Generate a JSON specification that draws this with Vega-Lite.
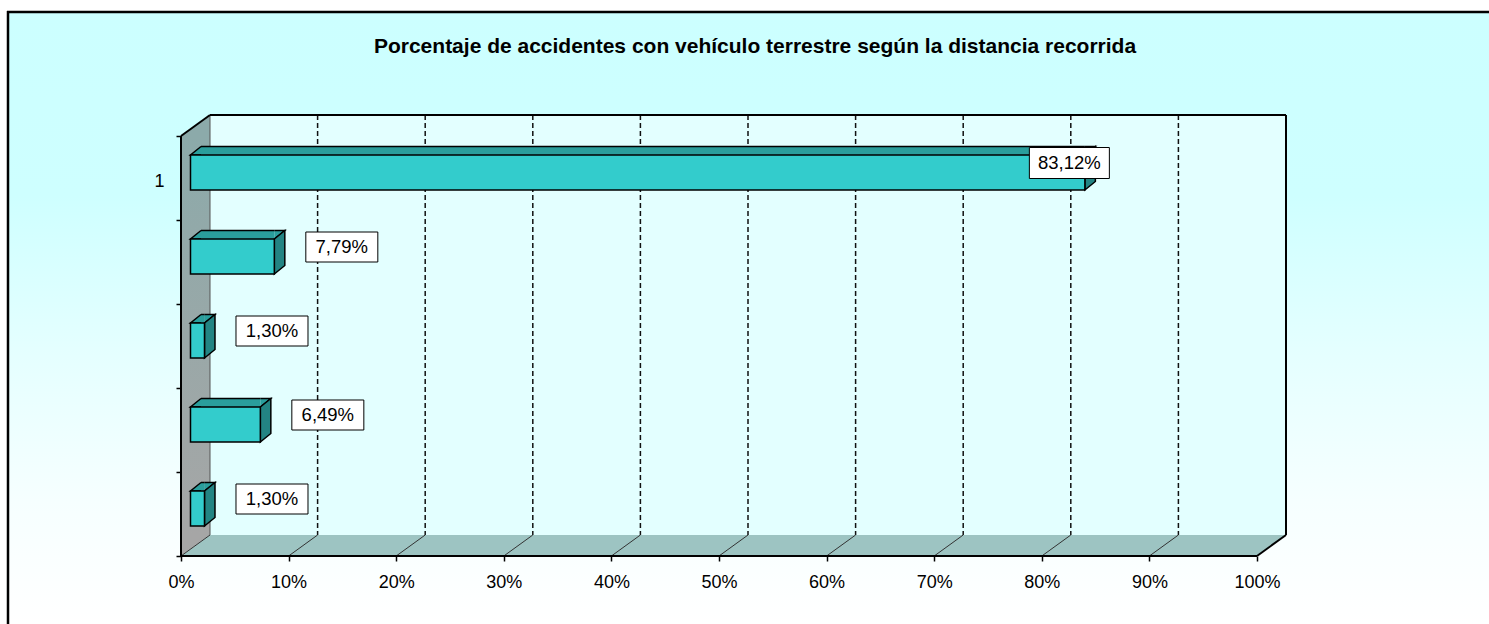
{
  "$schema": "https://vega.github.io/schema/vega-lite/v6.json",
  "width": 1076,
  "height": 420,
  "autosize": {"type": "none"},
  "padding": {"left": 210, "top": 115, "right": 203, "bottom": 89},
  "background": "white",
  "title": {
    "text": "Porcentaje de accidentes con vehículo terrestre según la distancia recorrida",
    "font": "Liberation Sans",
    "fontSize": 21,
    "fontWeight": "bold",
    "color": "black",
    "anchor": "middle",
    "frame": "group",
    "dx": 7,
    "offset": -47
  },
  "config": {
    "view": {"stroke": null},
    "locale": {
      "number": {"decimal": ",", "thousands": ".", "grouping": [3], "currency": ["", " €"], "percent": "%"}
    }
  },
  "datasets": {
    "barras": [
      {"grupo": 1, "proporcion": 0.8312},
      {"grupo": 2, "proporcion": 0.0779},
      {"grupo": 3, "proporcion": 0.013},
      {"grupo": 4, "proporcion": 0.0649},
      {"grupo": 5, "proporcion": 0.013}
    ],
    "marcas": [
      {"valor": 0}, {"valor": 0.1}, {"valor": 0.2}, {"valor": 0.3}, {"valor": 0.4}, {"valor": 0.5},
      {"valor": 0.6}, {"valor": 0.7}, {"valor": 0.8}, {"valor": 0.9}, {"valor": 1}
    ]
  },
  "layer": [
    {
      "data": {"values": [{}]},
      "mark": {
        "type": "rect",
        "fill": {"gradient": "linear", "x1": 0, "y1": 0, "x2": 0, "y2": 1,
          "stops": [
            {"offset": 0, "color": "#CCFFFF"},
            {"offset": 0.3, "color": "#CEFFFF"},
            {"offset": 0.55, "color": "#E4FFFF"},
            {"offset": 0.8, "color": "#F6FFFF"},
            {"offset": 1, "color": "#FFFFFF"}
          ]},
        "xOffset": -202, "x2Offset": 203, "yOffset": -103, "y2Offset": 89
      },
      "encoding": {
        "x": {"datum": 0, "type": "quantitative",
          "scale": {"domain": [0, 1], "nice": false, "zero": false},
          "axis": {
            "values": [0, 0.1, 0.2, 0.3, 0.4, 0.5, 0.6, 0.7, 0.8, 0.9, 1],
            "format": ".0%", "grid": false, "domain": false, "zindex": 1,
            "offset": 21, "tickOffset": -29, "tickSize": 5, "tickColor": "black", "tickWidth": 1.5,
            "labelFont": "Liberation Sans", "labelFontSize": 18, "labelColor": "black",
            "labelPadding": 12, "title": null, "labelFlush": false, "labelOverlap": false
          }},
        "x2": {"datum": 1},
        "y": {"datum": 0.5, "type": "quantitative",
          "scale": {"domain": [0.5, 5.5], "reverse": true, "nice": false, "zero": false},
          "axis": {
            "values": [0.5, 1, 1.5, 2.5, 3.5, 4.5, 5.5],
            "labelExpr": "datum.value == 1 ? '1' : ''",
            "tickOpacity": {"condition": {"test": "datum.value == 1", "value": 0}, "value": 1},
            "grid": false, "domain": false, "zindex": 1,
            "offset": 29, "tickOffset": 21, "labelOffset": 3, "tickSize": 5, "tickColor": "black", "tickWidth": 1.5,
            "labelFont": "Liberation Sans", "labelFontSize": 18, "labelColor": "black",
            "labelPadding": 12, "title": null, "labelFlush": false, "labelOverlap": false
          }},
        "y2": {"datum": 5.5}
      }
    },
    {
      "data": {"values": [{}]},
      "mark": {"type": "rule", "color": "black", "strokeWidth": 2.5, "xOffset": -202, "yOffset": -104, "y2Offset": 89},
      "encoding": {
        "x": {"datum": 0, "type": "quantitative"},
        "y": {"datum": 0.5, "type": "quantitative"}, "y2": {"datum": 5.5}
      }
    },
    {
      "data": {"values": [{}]},
      "mark": {"type": "rule", "color": "black", "strokeWidth": 2.5, "xOffset": -203, "x2Offset": 203, "yOffset": -103},
      "encoding": {
        "x": {"datum": 0, "type": "quantitative"}, "x2": {"datum": 1},
        "y": {"datum": 0.5, "type": "quantitative"}
      }
    },
    {
      "data": {"values": [{}]},
      "mark": {"type": "rect", "fill": "#E3FFFF"},
      "encoding": {
        "x": {"datum": 0, "type": "quantitative"}, "x2": {"datum": 1},
        "y": {"datum": 0.5, "type": "quantitative"}, "y2": {"datum": 5.5}
      }
    },
    {
      "data": {"values": [{}]},
      "mark": {"type": "rect",
        "fill": {"gradient": "linear", "x1": 0, "y1": 0, "x2": 0, "y2": 1,
          "stops": [{"offset": 0, "color": "#8CAAAA"}, {"offset": 1, "color": "#A6A6A6"}]},
        "xOffset": -29, "yOffset": 21},
      "encoding": {
        "x": {"datum": 0, "type": "quantitative"}, "x2": {"datum": 0},
        "y": {"datum": 0.5, "type": "quantitative"}, "y2": {"datum": 5.5}
      }
    },
    {
      "data": {"values": [{}]},
      "mark": {"type": "point", "shape": "M0,0L0,21L-29,21Z", "size": 4, "filled": true, "fill": "#8CAAAA", "opacity": 1, "strokeWidth": 0},
      "encoding": {"x": {"datum": 0, "type": "quantitative"}, "y": {"datum": 0.5, "type": "quantitative"}}
    },
    {
      "data": {"values": [{}]},
      "mark": {"type": "point", "shape": "M0,0L-29,0L-29,21Z", "size": 4, "filled": true, "fill": "#A6A6A6", "opacity": 1, "strokeWidth": 0},
      "encoding": {"x": {"datum": 0, "type": "quantitative"}, "y": {"datum": 5.5, "type": "quantitative"}}
    },
    {
      "data": {"values": [{}]},
      "mark": {"type": "rect", "fill": "#9DC4C2", "x2Offset": -29, "y2Offset": 21},
      "encoding": {
        "x": {"datum": 0, "type": "quantitative"}, "x2": {"datum": 1},
        "y": {"datum": 5.5, "type": "quantitative"}, "y2": {"datum": 5.5}
      }
    },
    {
      "data": {"values": [{}]},
      "mark": {"type": "point", "shape": "M0,0L0,21L-29,21Z", "size": 4, "filled": true, "fill": "#9DC4C2", "opacity": 1, "strokeWidth": 0},
      "encoding": {"x": {"datum": 0, "type": "quantitative"}, "y": {"datum": 5.5, "type": "quantitative"}}
    },
    {
      "data": {"values": [{}]},
      "mark": {"type": "point", "shape": "M0,0L-29,0L-29,21Z", "size": 4, "filled": true, "fill": "#9DC4C2", "opacity": 1, "strokeWidth": 0},
      "encoding": {"x": {"datum": 1, "type": "quantitative"}, "y": {"datum": 5.5, "type": "quantitative"}}
    },
    {
      "data": {"name": "marcas"},
      "transform": [{"filter": "datum.valor > 0 && datum.valor < 1"}],
      "mark": {"type": "rule", "color": "#111111", "strokeWidth": 1.5, "strokeDash": [5, 3]},
      "encoding": {
        "x": {"field": "valor", "type": "quantitative"},
        "y": {"datum": 0.5, "type": "quantitative"}, "y2": {"datum": 5.5}
      }
    },
    {
      "data": {"name": "marcas"},
      "transform": [{"filter": "datum.valor < 1"}],
      "mark": {"type": "rule", "color": "#333333", "strokeWidth": 1, "xOffset": -29, "yOffset": 21},
      "encoding": {
        "x": {"field": "valor", "type": "quantitative"}, "x2": {"field": "valor"},
        "y": {"datum": 5.5, "type": "quantitative"}, "y2": {"datum": 5.5}
      }
    },
    {
      "data": {"values": [{}]},
      "mark": {"type": "rule", "color": "#555555", "strokeWidth": 1},
      "encoding": {
        "x": {"datum": 0, "type": "quantitative"},
        "y": {"datum": 0.5, "type": "quantitative"}, "y2": {"datum": 5.5}
      }
    },
    {
      "data": {"values": [{}]},
      "mark": {"type": "rule", "color": "black", "strokeWidth": 2},
      "encoding": {
        "x": {"datum": 0, "type": "quantitative"}, "x2": {"datum": 1},
        "y": {"datum": 0.5, "type": "quantitative"}
      }
    },
    {
      "data": {"values": [{}]},
      "mark": {"type": "rule", "color": "black", "strokeWidth": 2},
      "encoding": {
        "x": {"datum": 1, "type": "quantitative"},
        "y": {"datum": 0.5, "type": "quantitative"}, "y2": {"datum": 5.5}
      }
    },
    {
      "data": {"values": [{}]},
      "mark": {"type": "rule", "color": "black", "strokeWidth": 2, "xOffset": -29, "yOffset": 21},
      "encoding": {
        "x": {"datum": 0, "type": "quantitative"}, "x2": {"datum": 0},
        "y": {"datum": 0.5, "type": "quantitative"}, "y2": {"datum": 0.5}
      }
    },
    {
      "data": {"values": [{}]},
      "mark": {"type": "rule", "color": "black", "strokeWidth": 2, "xOffset": -29, "yOffset": 21, "y2Offset": 21},
      "encoding": {
        "x": {"datum": 0, "type": "quantitative"},
        "y": {"datum": 0.5, "type": "quantitative"}, "y2": {"datum": 5.5}
      }
    },
    {
      "data": {"values": [{}]},
      "mark": {"type": "rule", "color": "black", "strokeWidth": 2, "xOffset": -29, "x2Offset": -29, "yOffset": 21},
      "encoding": {
        "x": {"datum": 0, "type": "quantitative"}, "x2": {"datum": 1},
        "y": {"datum": 5.5, "type": "quantitative"}
      }
    },
    {
      "data": {"values": [{}]},
      "mark": {"type": "rule", "color": "black", "strokeWidth": 2, "xOffset": -29, "yOffset": 21},
      "encoding": {
        "x": {"datum": 1, "type": "quantitative"}, "x2": {"datum": 1},
        "y": {"datum": 5.5, "type": "quantitative"}, "y2": {"datum": 5.5}
      }
    },
    {
      "data": {"name": "barras"},
      "mark": {"type": "rect", "fill": "#2A9E9C", "xOffset": -19.5, "x2Offset": -9, "yOffset": -10.5, "y2Offset": -2},
      "encoding": {
        "x": {"field": "proporcion", "type": "quantitative"}, "x2": {"datum": 0},
        "y": {"field": "grupo", "type": "quantitative"}, "y2": {"field": "grupo"}
      }
    },
    {
      "data": {"name": "barras"},
      "mark": {"type": "point", "shape": "M-9,-2L-19.5,-2L-9,-10.5", "size": 4, "filled": true, "fill": "#2A9E9C", "stroke": "black", "strokeWidth": 1.5, "opacity": 1},
      "encoding": {
        "x": {"datum": 0, "type": "quantitative"},
        "y": {"field": "grupo", "type": "quantitative"}
      }
    },
    {
      "data": {"name": "barras"},
      "mark": {"type": "point", "shape": "M-19.5,-10.5L-9,-10.5L-19.5,-2", "size": 4, "filled": true, "fill": "#2A9E9C", "stroke": "black", "strokeWidth": 1.5, "opacity": 1},
      "encoding": {
        "x": {"field": "proporcion", "type": "quantitative"},
        "y": {"field": "grupo", "type": "quantitative"}
      }
    },
    {
      "data": {"name": "barras"},
      "mark": {"type": "rule", "color": "black", "strokeWidth": 1.5, "xOffset": -19.5, "x2Offset": -9, "yOffset": -10.5},
      "encoding": {
        "x": {"field": "proporcion", "type": "quantitative"}, "x2": {"datum": 0},
        "y": {"field": "grupo", "type": "quantitative"}
      }
    },
    {
      "data": {"name": "barras"},
      "mark": {"type": "point", "shape": "M-19.5,-2L-9,-10.5L-9,24.5L-19.5,33Z", "size": 4, "filled": true, "fill": "#238483", "stroke": "black", "strokeWidth": 1.5, "opacity": 1},
      "encoding": {
        "x": {"field": "proporcion", "type": "quantitative"},
        "y": {"field": "grupo", "type": "quantitative"}
      }
    },
    {
      "data": {"name": "barras"},
      "mark": {"type": "rect", "fill": "#33CCCC", "stroke": "black", "strokeWidth": 1.5, "xOffset": -19.5, "x2Offset": -19.5, "yOffset": -2, "y2Offset": 33},
      "encoding": {
        "x": {"field": "proporcion", "type": "quantitative"}, "x2": {"datum": 0},
        "y": {"field": "grupo", "type": "quantitative"}, "y2": {"field": "grupo"}
      }
    },
    {
      "data": {"name": "barras"},
      "mark": {"type": "point",
        "shape": {"expr": "datum.proporcion >= 0.1 ? 'M-40,-15.5H40V15.5H-40Z' : 'M-36,-15H36V15H-36Z'"},
        "size": 4, "filled": true, "fill": "white", "stroke": "black", "strokeWidth": 1, "opacity": 1,
        "xOffset": {"expr": "datum.proporcion > 0.5 ? -35 : 48"}, "yOffset": 6},
      "encoding": {
        "x": {"field": "proporcion", "type": "quantitative"},
        "y": {"field": "grupo", "type": "quantitative"}
      }
    },
    {
      "data": {"name": "barras"},
      "mark": {"type": "text", "font": "Liberation Sans", "fontSize": 18.5, "fill": "black", "align": "center", "baseline": "middle",
        "dx": {"expr": "datum.proporcion > 0.5 ? -35 : 48"}, "dy": 6},
      "encoding": {
        "x": {"field": "proporcion", "type": "quantitative"},
        "y": {"field": "grupo", "type": "quantitative"},
        "text": {"field": "proporcion", "type": "quantitative", "format": ".2%"}
      }
    }
  ]
}
